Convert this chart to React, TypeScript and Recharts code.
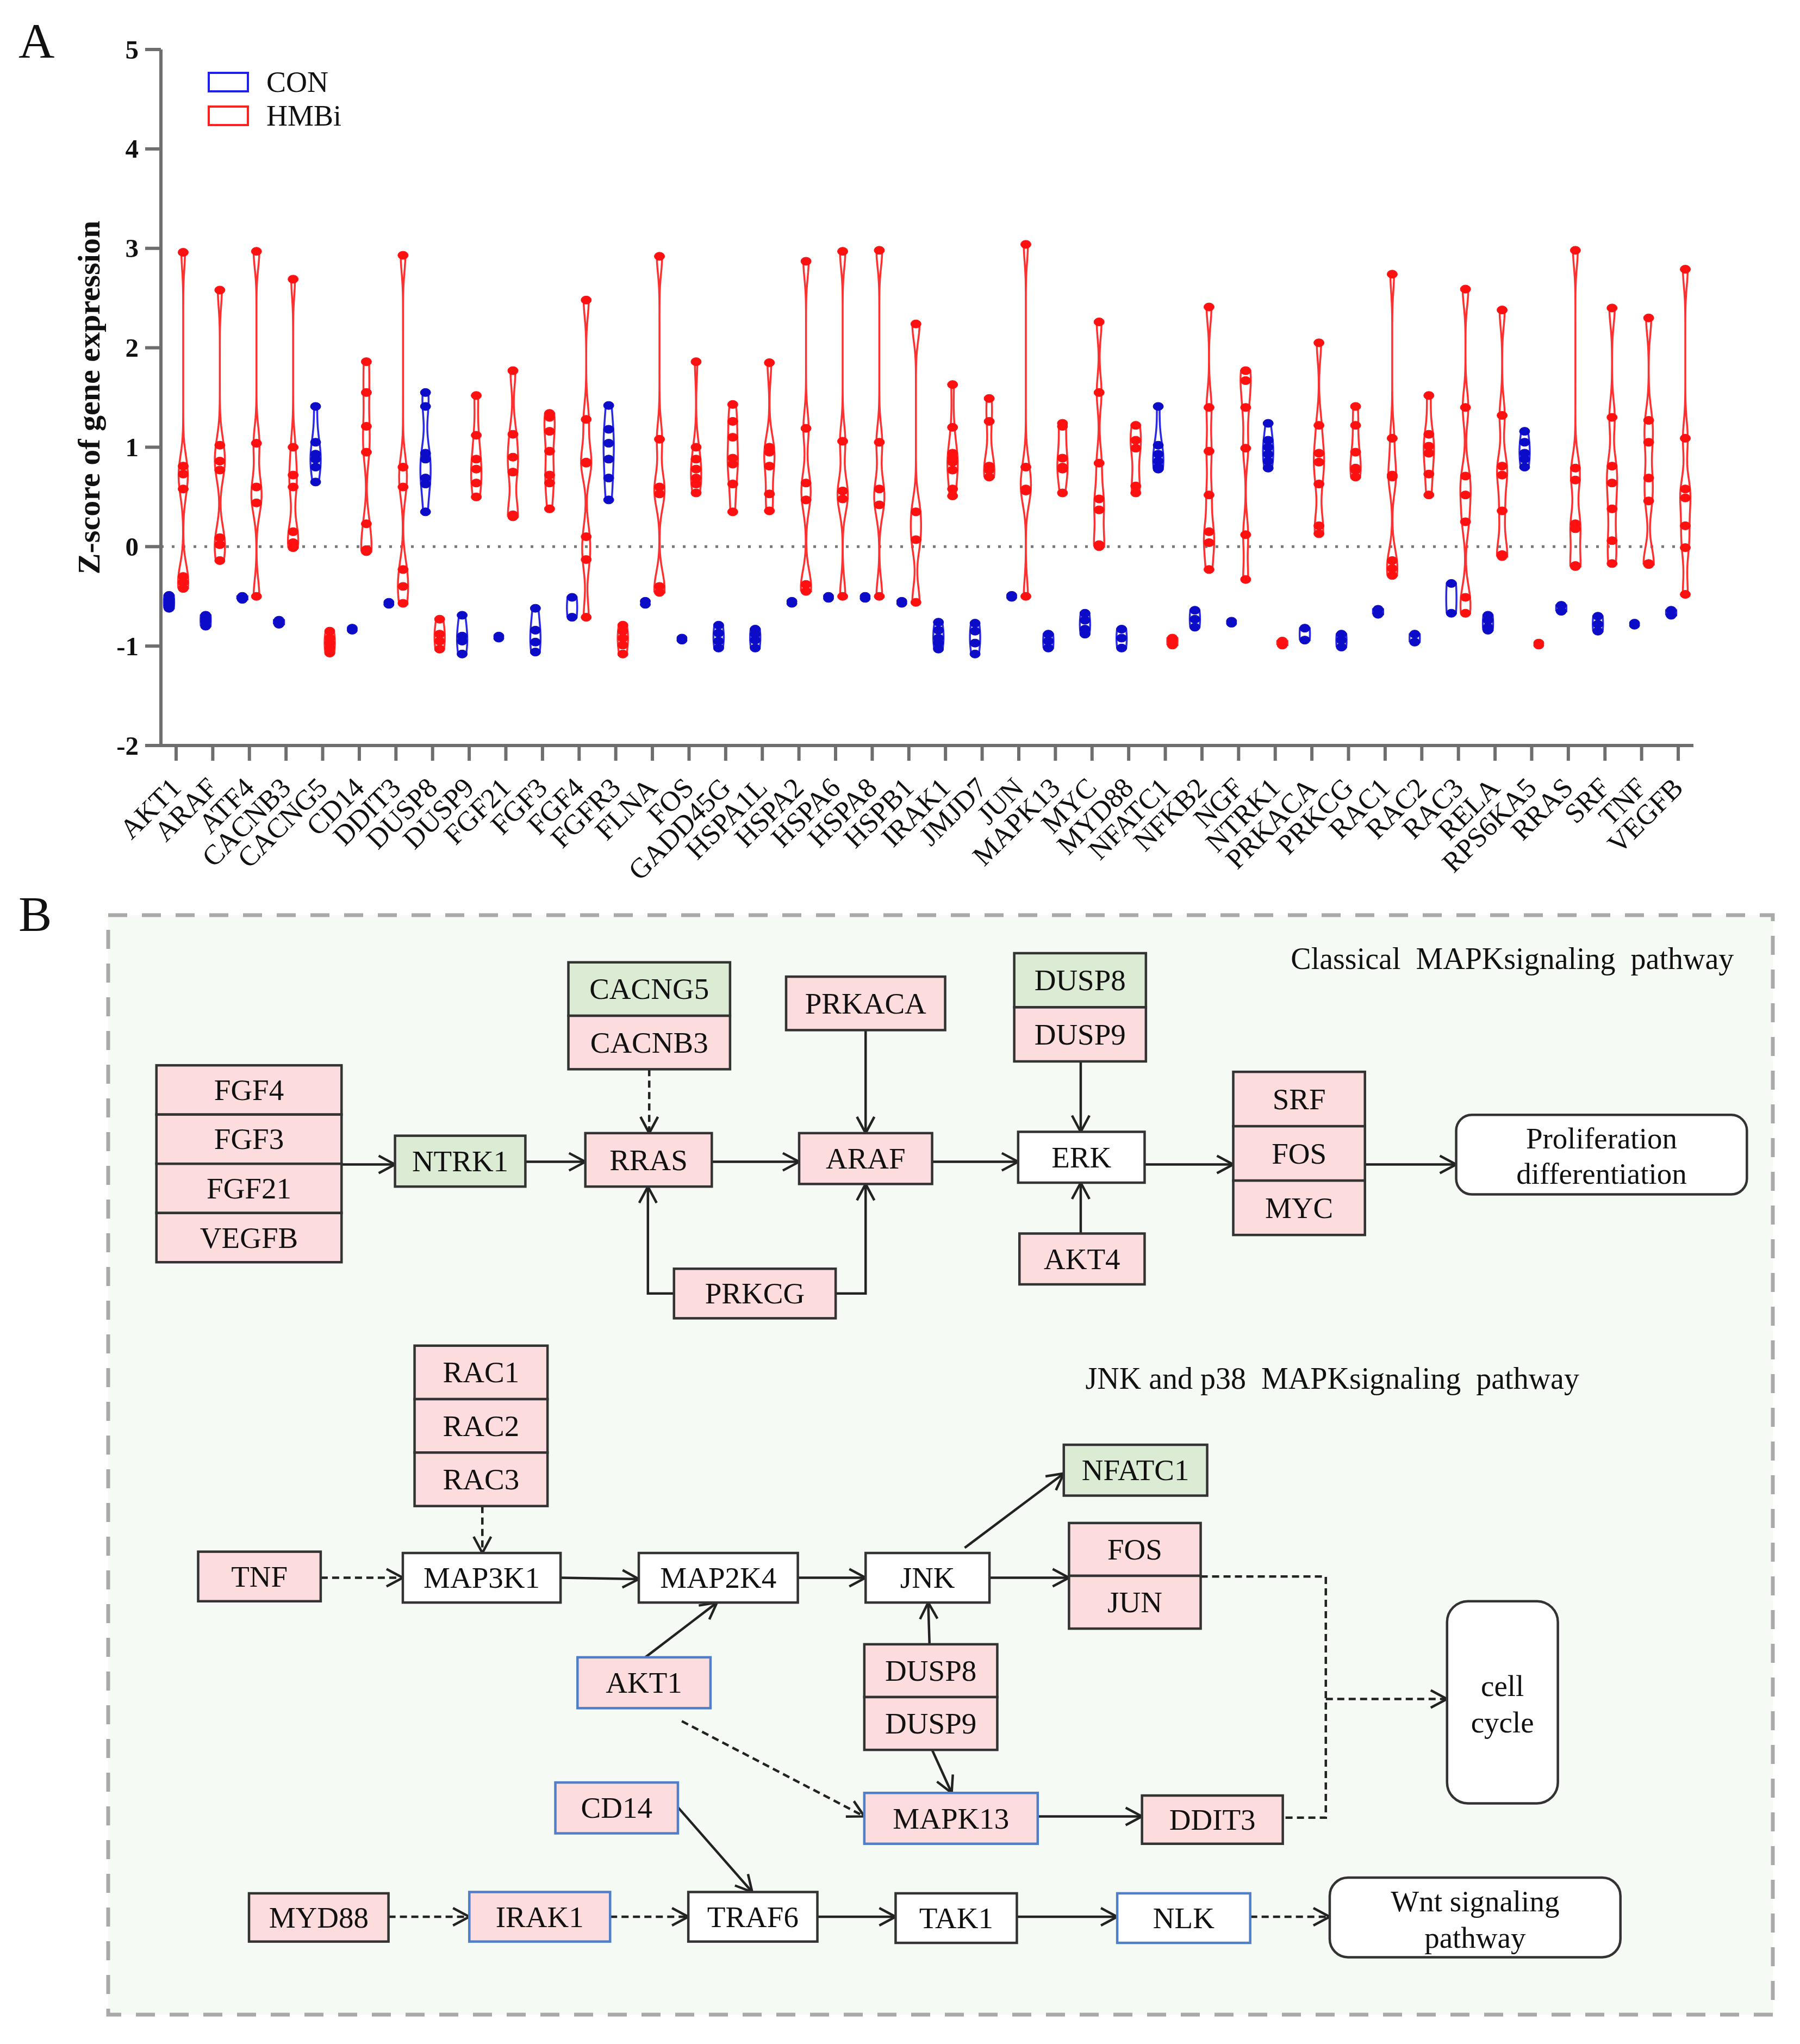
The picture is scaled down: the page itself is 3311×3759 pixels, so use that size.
import React from 'react';
import { ScatterChart, Scatter, XAxis, YAxis, ReferenceLine, Legend } from 'recharts';

const genes = ['AKT1','ARAF','ATF4','CACNB3','CACNG5','CD14','DDIT3','DUSP8','DUSP9','FGF21','FGF3','FGF4','FGFR3','FLNA','FOS','GADD45G','HSPA1L','HSPA2','HSPA6','HSPA8','HSPB1','IRAK1','JMJD7','JUN','MAPK13','MYC','MYD88','NFATC1','NFKB2','NGF','NTRK1','PRKACA','PRKCG','RAC1','RAC2','RAC3','RELA','RPS6KA5','RRAS','SRF','TNF','VEGFB'];

const conValues: number[][] = [
  [-0.49,-0.53,-0.56,-0.59,-0.62],
  [-0.69,-0.72,-0.75,-0.80],
  [-0.50,-0.52,-0.53],
  [-0.74,-0.76,-0.78],
  [1.41,1.05,0.93,0.88,0.80,0.65],
  [-0.82,-0.84],
  [-0.56,-0.58],
  [1.55,1.41,0.94,0.88,0.69,0.63,0.35],
  [-0.69,-0.90,-0.95,-1.08],
  [-0.90,-0.92],
  [-0.62,-0.84,-0.96,-1.06],
  [-0.51,-0.71],
  [1.42,1.18,1.04,0.88,0.69,0.47],
  [-0.55,-0.58],
  [-0.92,-0.94],
  [-0.79,-0.87,-0.95,-1.02],
  [-0.83,-0.88,-0.94,-1.02],
  [-0.55,-0.57],
  [-0.50,-0.52],
  [-0.50,-0.52],
  [-0.55,-0.57],
  [-0.76,-0.84,-0.92,-0.97,-1.03],
  [-0.77,-0.85,-0.97,-1.08],
  [-0.49,-0.51],
  [-0.88,-0.95,-1.02],
  [-0.67,-0.74,-0.83,-0.88],
  [-0.83,-0.92,-1.02],
  [1.41,1.02,0.93,0.86,0.80,0.78],
  [-0.64,-0.73,-0.81],
  [-0.75,-0.77],
  [1.24,1.07,1.00,0.93,0.86,0.79],
  [-0.82,-0.94],
  [-0.88,-0.94,-1.01],
  [-0.63,-0.68],
  [-0.88,-0.96],
  [-0.37,-0.67],
  [-0.69,-0.74,-0.81,-0.84],
  [1.16,1.05,0.94,0.88,0.80],
  [-0.59,-0.65],
  [-0.70,-0.78,-0.85],
  [-0.77,-0.79],
  [-0.64,-0.69],
];

const hmbiValues: number[][] = [
  [2.96,0.81,0.73,0.58,-0.30,-0.36,-0.42],
  [2.58,1.02,0.86,0.77,0.09,0.02,-0.14],
  [2.97,1.04,0.60,0.44,-0.50],
  [2.69,1.00,0.72,0.60,0.15,0.04,-0.01],
  [-0.85,-0.92,-0.97,-1.02,-1.07],
  [1.86,1.55,1.21,0.95,0.23,-0.03,-0.05],
  [2.93,0.80,0.60,-0.23,-0.40,-0.57],
  [-0.73,-0.88,-0.95,-1.03],
  [1.52,1.12,0.88,0.78,0.64,0.50],
  [1.77,1.13,0.90,0.75,0.32,0.30],
  [1.34,1.30,1.16,0.96,0.72,0.64,0.38],
  [2.48,1.28,0.85,0.84,0.10,-0.13,-0.71],
  [-0.79,-0.85,-0.92,-0.99,-1.08],
  [2.92,1.08,0.60,0.53,-0.40,-0.46],
  [1.86,1.00,0.88,0.78,0.69,0.63,0.54],
  [1.43,1.26,1.10,0.89,0.83,0.63,0.35],
  [1.85,1.00,0.95,0.81,0.53,0.36],
  [2.87,1.19,0.64,0.47,-0.38,-0.45],
  [2.97,1.06,0.56,0.48,-0.50],
  [2.98,1.05,0.58,0.42,-0.50],
  [2.24,0.35,0.07,-0.56],
  [1.63,1.20,0.94,0.89,0.85,0.77,0.58,0.51],
  [1.49,1.26,0.81,0.77,0.70],
  [3.04,0.80,0.58,0.56,-0.50],
  [1.24,1.21,0.89,0.80,0.78,0.54],
  [2.26,1.55,0.84,0.48,0.37,0.02,0.00],
  [1.22,1.07,0.99,0.61,0.54],
  [-0.92,-0.95,-0.99],
  [2.41,1.40,0.96,0.52,0.15,0.04,-0.23],
  [1.77,1.67,1.40,0.99,0.12,-0.33],
  [-0.95,-0.99],
  [2.05,1.22,0.94,0.85,0.63,0.21,0.13],
  [1.41,1.22,0.95,0.79,0.77,0.70],
  [2.74,1.09,0.72,0.70,-0.14,-0.22,-0.29],
  [1.52,1.13,1.01,0.94,0.73,0.52],
  [2.59,1.40,0.71,0.52,0.25,-0.51,-0.67],
  [2.38,1.32,0.81,0.72,0.36,-0.08,-0.10],
  [-0.97,-0.99],
  [2.98,0.79,0.67,0.23,0.18,-0.19,-0.20],
  [2.40,1.30,0.81,0.64,0.38,0.06,-0.17],
  [2.30,1.27,1.05,0.69,0.46,-0.17,-0.18],
  [2.79,1.09,0.58,0.49,0.21,-0.01,-0.48],
];

const yTicks = [-2, -1, 0, 1, 2, 3, 4, 5];
const xTicks = genes.map((_, i) => i);
const groupNames = ['CON', 'HMBi'];

const SERIF = '"Liberation Serif", "Times New Roman", serif';
const RED = '#ff1010';
const BLUE = '#0c0cc8';
const OFFSET = 0.193;
const HALF_W = 0.14;
const BW = 0.17;

function violinOutline(center: number, vals: number[]) {
  const lo = Math.min(...vals);
  const hi = Math.max(...vals);
  if (hi - lo < 0.03) return [] as { x: number; y: number }[];
  const n = 60;
  const ys: number[] = [];
  const ds: number[] = [];
  for (let i = 0; i <= n; i++) {
    const y = lo + ((hi - lo) * i) / n;
    ys.push(y);
    ds.push(vals.reduce((s, v) => s + Math.exp(-0.5 * ((y - v) / BW) ** 2), 0));
  }
  const m = Math.max(...ds);
  const left = ys.map((y, i) => ({ x: center - (HALF_W * ds[i]) / m, y }));
  const right = ys.map((y, i) => ({ x: center + (HALF_W * ds[i]) / m, y })).reverse();
  return [...left, ...right, left[0]];
}

const conDots = genes.flatMap((_, i) => conValues[i].map((v) => ({ x: i - OFFSET, y: v })));
const hmbiDots = genes.flatMap((_, i) => hmbiValues[i].map((v) => ({ x: i + OFFSET, y: v })));

const EmptyShape = () => <g />;
const makeDot = (color: string) => (p: any) => (
  <ellipse cx={p.cx} cy={p.cy} rx={9.5} ry={7.5} fill={color} stroke={color} strokeWidth={1} />
);
const conDot = makeDot(BLUE);
const hmbiDot = makeDot(RED);

const GeneTick = (props: any) => {
  const { x, y, payload } = props;
  const tx = x - 1;
  const ty = y;
  return (
    <text x={tx} y={ty} transform={`rotate(-45 ${tx} ${ty})`} textAnchor="end" dy="0.35em" fontFamily={SERIF} fontSize={52} fill="#111">
      {genes[payload.value]}
    </text>
  );
};

const ValTick = (props: any) => {
  const { x, y, payload } = props;
  return (
    <text x={x} y={y} textAnchor="end" dominantBaseline="central" fontFamily={SERIF} fontSize={49} fontWeight="bold" fill="#111">
      {payload.value}
    </text>
  );
};

const YLabel = () => (
  <text x={163} y={731} transform="rotate(-90 163 731)" textAnchor="middle" dominantBaseline="central" fontFamily={SERIF} fontSize={58} fontWeight="bold" fill="#111">
    Z-score of gene expression
  </text>
);

const LegendContent = () => (
  <svg width={420} height={170} style={{ overflow: 'visible' }}>
    {groupNames.map((g, i) => (
      <g key={g}>
        <rect x={4} y={28 + i * 62} width={72} height={34} fill="none" stroke={i === 0 ? '#2020ee' : '#ff2020'} strokeWidth={4} />
        <text x={110} y={45 + i * 62} dominantBaseline="central" fontFamily={SERIF} fontSize={54} fill="#111">{g}</text>
      </g>
    ))}
  </svg>
);

// ---------- Panel B layout (diagram, coordinates in reference units) ----------
const S = 2.398;
const PINK = '#fcdcdc';
const GREEN = '#dcecd4';
const WHITE = '#ffffff';
const EDGE = '#333333';
const BLUE_EDGE = '#4f7fc8';

type Node = { x: number; y: number; w: number; h: number; labels: string[]; fills: string[]; blue?: boolean; r?: number; lineYs?: number[] };

const nodes: Node[] = [
  { x: 120, y: 817, w: 142, h: 37.75, labels: ['FGF4', 'FGF3', 'FGF21', 'VEGFB'], fills: [PINK, PINK, PINK, PINK] },
  { x: 303, y: 871, w: 100, h: 39, labels: ['NTRK1'], fills: [GREEN] },
  { x: 436, y: 738, w: 124, h: 41, labels: ['CACNG5', 'CACNB3'], fills: [GREEN, PINK] },
  { x: 449, y: 869, w: 97, h: 41, labels: ['RRAS'], fills: [PINK] },
  { x: 603, y: 749, w: 122, h: 41, labels: ['PRKACA'], fills: [PINK] },
  { x: 613, y: 869, w: 102, h: 39, labels: ['ARAF'], fills: [PINK] },
  { x: 517, y: 973, w: 124, h: 38, labels: ['PRKCG'], fills: [PINK] },
  { x: 778, y: 731, w: 101, h: 41.5, labels: ['DUSP8', 'DUSP9'], fills: [GREEN, PINK] },
  { x: 781, y: 868, w: 97, h: 39, labels: ['ERK'], fills: [WHITE] },
  { x: 782, y: 946, w: 96, h: 39, labels: ['AKT4'], fills: [PINK] },
  { x: 946, y: 822, w: 101, h: 41.7, labels: ['SRF', 'FOS', 'MYC'], fills: [PINK, PINK, PINK] },
  { x: 1117, y: 855, w: 223, h: 61, labels: ['Proliferation', 'differentiation'], fills: [WHITE], r: 12, lineYs: [873, 900] },
  { x: 318, y: 1032, w: 102, h: 41, labels: ['RAC1', 'RAC2', 'RAC3'], fills: [PINK, PINK, PINK] },
  { x: 152, y: 1190, w: 94, h: 38, labels: ['TNF'], fills: [PINK] },
  { x: 309, y: 1191, w: 121, h: 38, labels: ['MAP3K1'], fills: [WHITE] },
  { x: 490, y: 1191, w: 122, h: 38, labels: ['MAP2K4'], fills: [WHITE] },
  { x: 664, y: 1191, w: 95, h: 38, labels: ['JNK'], fills: [WHITE] },
  { x: 816, y: 1108, w: 110, h: 39, labels: ['NFATC1'], fills: [GREEN] },
  { x: 820, y: 1168, w: 101, h: 40.5, labels: ['FOS', 'JUN'], fills: [PINK, PINK] },
  { x: 443, y: 1271, w: 102, h: 39, labels: ['AKT1'], fills: [PINK], blue: true },
  { x: 663, y: 1261, w: 102, h: 40.5, labels: ['DUSP8', 'DUSP9'], fills: [PINK, PINK] },
  { x: 426, y: 1367, w: 94, h: 39, labels: ['CD14'], fills: [PINK], blue: true },
  { x: 663, y: 1375, w: 133, h: 39, labels: ['MAPK13'], fills: [PINK], blue: true },
  { x: 876, y: 1377, w: 108, h: 37, labels: ['DDIT3'], fills: [PINK] },
  { x: 1110, y: 1228, w: 85, h: 155, labels: ['cell', 'cycle'], fills: [WHITE], r: 16, lineYs: [1293, 1321] },
  { x: 191, y: 1452, w: 107, h: 37, labels: ['MYD88'], fills: [PINK] },
  { x: 360, y: 1451, w: 108, h: 38, labels: ['IRAK1'], fills: [PINK], blue: true },
  { x: 528, y: 1451, w: 99, h: 38, labels: ['TRAF6'], fills: [WHITE] },
  { x: 687, y: 1452, w: 93, h: 38, labels: ['TAK1'], fills: [WHITE] },
  { x: 857, y: 1452, w: 102, h: 38, labels: ['NLK'], fills: [WHITE], blue: true },
  { x: 1020, y: 1440, w: 223, h: 61, labels: ['Wnt signaling', 'pathway'], fills: [WHITE], r: 14, lineYs: [1458, 1486] },
];

type Arrow = { pts: number[][]; dashed?: boolean; head?: boolean };
const arrows: Arrow[] = [
  { pts: [[262, 893], [303, 893]] },
  { pts: [[403, 891], [449, 891]] },
  { pts: [[498, 820], [498, 869]], dashed: true },
  { pts: [[546, 891], [613, 891]] },
  { pts: [[664, 790], [664, 869]] },
  { pts: [[517, 992], [497, 992], [497, 910]] },
  { pts: [[641, 992], [664, 992], [664, 908]] },
  { pts: [[715, 891], [781, 891]] },
  { pts: [[829, 814], [829, 868]] },
  { pts: [[829, 946], [829, 907]] },
  { pts: [[878, 893], [946, 893]] },
  { pts: [[1047, 893], [1117, 893]] },
  { pts: [[370, 1155], [370, 1191]], dashed: true },
  { pts: [[246, 1210], [309, 1210]], dashed: true },
  { pts: [[430, 1210], [490, 1211]] },
  { pts: [[612, 1210], [664, 1210]] },
  { pts: [[495, 1271], [550, 1229]] },
  { pts: [[740, 1187], [816, 1130]] },
  { pts: [[759, 1210], [820, 1210]] },
  { pts: [[713, 1261], [712, 1229]] },
  { pts: [[715, 1342], [730, 1375]] },
  { pts: [[523, 1320], [663, 1393]], dashed: true },
  { pts: [[520, 1386], [577, 1451]] },
  { pts: [[796, 1393], [876, 1393]] },
  { pts: [[921, 1209], [1017, 1209], [1017, 1394], [984, 1394]], dashed: true, head: false },
  { pts: [[1017, 1303], [1110, 1303]], dashed: true },
  { pts: [[298, 1470], [360, 1470]], dashed: true },
  { pts: [[468, 1470], [528, 1470]], dashed: true },
  { pts: [[627, 1470], [687, 1470]] },
  { pts: [[780, 1470], [857, 1470]] },
  { pts: [[959, 1470], [1020, 1470]], dashed: true },
];

const NodeView = ({ n }: { n: Node }) => {
  const stroke = n.blue ? BLUE_EDGE : EDGE;
  if (n.r) {
    return (
      <g>
        <rect x={n.x * S} y={n.y * S} width={n.w * S} height={n.h * S} rx={n.r * S} ry={n.r * S} fill={n.fills[0]} stroke={EDGE} strokeWidth={4.5} />
        {n.labels.map((l, i) => (
          <text key={l} x={(n.x + n.w / 2) * S} y={(n.lineYs as number[])[i] * S} textAnchor="middle" dominantBaseline="central" fontFamily={SERIF} fontSize={55} fill="#111">{l}</text>
        ))}
      </g>
    );
  }
  return (
    <g>
      {n.labels.map((l, i) => (
        <g key={l + i}>
          <rect x={n.x * S} y={(n.y + i * n.h) * S} width={n.w * S} height={n.h * S} fill={n.fills[i]} stroke={stroke} strokeWidth={4.5} />
          <text x={(n.x + n.w / 2) * S} y={(n.y + i * n.h + n.h / 2) * S} textAnchor="middle" dominantBaseline="central" fontFamily={SERIF} fontSize={55} fill="#111">{l}</text>
        </g>
      ))}
    </g>
  );
};

const ArrowView = ({ a }: { a: Arrow }) => {
  const pts = a.pts.map(([x, y]) => [x * S, y * S]);
  const d = pts.map((p) => p.join(',')).join(' ');
  const [px, py] = pts[pts.length - 1];
  const [qx, qy] = pts[pts.length - 2];
  const len = Math.hypot(px - qx, py - qy);
  const ux = (px - qx) / len;
  const uy = (py - qy) / len;
  const L = 30;
  const W = 16;
  const h1 = [px - L * ux - W * uy, py - L * uy + W * ux];
  const h2 = [px - L * ux + W * uy, py - L * uy - W * ux];
  return (
    <g fill="none" stroke="#222" strokeWidth={4.5}>
      <polyline points={d} strokeDasharray={a.dashed ? '13 8' : undefined} />
      {a.head !== false && <polyline points={`${h1.join(',')} ${px},${py} ${h2.join(',')}`} strokeLinejoin="miter" />}
    </g>
  );
};

const PanelB = () => (
  <svg width={3311} height={3759} style={{ position: 'absolute', left: 0, top: 0, pointerEvents: 'none' }}>
    <text x={34} y={106} fontFamily={SERIF} fontSize={92} fill="#111">A</text>
    <text x={34} y={1712} fontFamily={SERIF} fontSize={92} fill="#111">B</text>
    <rect x={199} y={1683} width={3062} height={2022} fill="#f6faf4" stroke="#a9a9a9" strokeWidth={7} strokeDasharray="35 27" />
    <text x={1330 * S} y={735 * S} textAnchor="end" dominantBaseline="central" fontFamily={SERIF} fontSize={56} fill="#111" style={{ whiteSpace: 'pre' }}>
      {'Classical  MAPKsignaling  pathway'}
    </text>
    <text x={1022 * S} y={1057 * S} textAnchor="middle" dominantBaseline="central" fontFamily={SERIF} fontSize={56} fill="#111" style={{ whiteSpace: 'pre' }}>
      {'JNK and p38  MAPKsignaling  pathway'}
    </text>
    {arrows.map((a, i) => <ArrowView key={i} a={a} />)}
    {nodes.map((n, i) => <NodeView key={i} n={n} />)}
  </svg>
);

export default function App() {
  return (
    <div style={{ position: 'absolute', left: 0, top: 0, width: 3311, height: 3759, background: '#fff', overflow: 'hidden' }}>
      <div style={{ position: 'absolute', left: 0, top: 0 }}>
        <ScatterChart width={3200} height={1700} margin={{ top: 91, right: 85, left: 0, bottom: 0 }}>
          <XAxis
            type="number"
            dataKey="x"
            domain={[-0.415, 41.415]}
            ticks={xTicks}
            interval={0}
            height={329}
            tickSize={28}
            tickMargin={40}
            tick={GeneTick}
            axisLine={{ stroke: '#6e6e6e', strokeWidth: 6 }}
            tickLine={{ stroke: '#6e6e6e', strokeWidth: 6 }}
          />
          <YAxis
            type="number"
            dataKey="y"
            domain={[-2, 5]}
            ticks={yTicks}
            interval={0}
            allowDataOverflow
            width={296}
            tickSize={29}
            tickMargin={12}
            tick={ValTick}
            axisLine={{ stroke: '#6e6e6e', strokeWidth: 6 }}
            tickLine={{ stroke: '#6e6e6e', strokeWidth: 6 }}
            label={YLabel}
          />
          <ReferenceLine y={0} stroke="#7a7a7a" strokeWidth={5} strokeDasharray="5 15" />
          {genes.map((g, i) => {
            const pts = violinOutline(i - OFFSET, conValues[i]);
            return pts.length ? (
              <Scatter key={'vc' + g} name={'CON ' + g} data={pts} shape={EmptyShape} line={{ stroke: '#2a2ae6', strokeWidth: 3.5 }} lineType="joint" isAnimationActive={false} legendType="none" />
            ) : null;
          })}
          {genes.map((g, i) => {
            const pts = violinOutline(i + OFFSET, hmbiValues[i]);
            return pts.length ? (
              <Scatter key={'vh' + g} name={'HMBi ' + g} data={pts} shape={EmptyShape} line={{ stroke: '#ff3030', strokeWidth: 3.5 }} lineType="joint" isAnimationActive={false} legendType="none" />
            ) : null;
          })}
          <Scatter name="CON" data={conDots} shape={conDot} isAnimationActive={false} />
          <Scatter name="HMBi" data={hmbiDots} shape={hmbiDot} isAnimationActive={false} />
          <Legend layout="vertical" align="center" verticalAlign="middle" content={LegendContent} wrapperStyle={{ left: 380, top: 106, width: 420, height: 170 }} />
        </ScatterChart>
      </div>
      <PanelB />
    </div>
  );
}
